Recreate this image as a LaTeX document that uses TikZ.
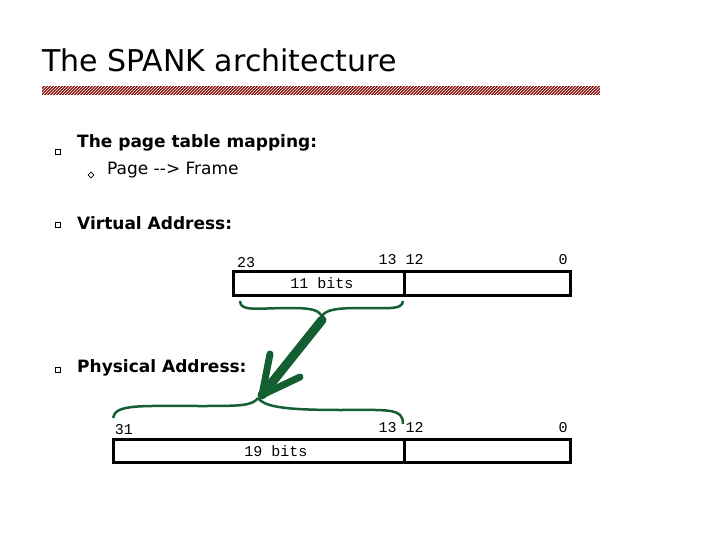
\documentclass[tikz,border=0pt]{standalone}
\usepackage{fontspec}
\setmainfont{DejaVu Sans}
\newfontfamily\monof{Liberation Mono}
\usetikzlibrary{patterns,arrows.meta}
\definecolor{gr}{RGB}{20,95,50}
\definecolor{dr}{RGB}{140,20,20}
\tikzset{
 lbl/.style={font=\fontsize{17}{20}\selectfont\bfseries, anchor=west, inner sep=0},
 sub/.style={font=\fontsize{17}{20}\selectfont, anchor=west, inner sep=0},
 num/.style={font=\monof\fontsize{15}{16}\selectfont, inner sep=0},
 reg/.style={draw, line width=3pt},
 brace/.style={draw=gr, line width=2.5pt},
 bul/.style={draw, line width=0.6pt, minimum size=5pt, inner sep=0},
}
\begin{document}
\begin{tikzpicture}[x=1pt,y=-1pt]
\useasboundingbox (0,0) rectangle (720,540);
\node[anchor=west, inner sep=0, font=\fontsize{30}{32}\selectfont] (title) at (42,60) {The SPANK architecture};
\fill[dr] (42,86) rectangle (600,95);
\fill[pattern=north east lines, pattern color=white] (42,86) rectangle (600,95);
\node[bul] (b1) at (58,152) {};
\node[lbl] (t1) at (77,143) {The page table mapping:};
\node[bul, rotate=45, minimum size=4pt] (b2) at (91,175) {};
\node[sub] (t2) at (107,170) {Page {-}{-}> Frame};
\node[bul] (b3) at (58,225) {};
\node[lbl] (t3) at (77,223) {Virtual Address:};
\node[bul] (b4) at (58,370) {};
\node[lbl] (t4) at (77,368) {Physical Address:};
% virtual register
\draw[reg] (233,271) rectangle (570,295);
\draw[reg] (404,271) -- (404,295);
\node[num] (v23) at (246,263) {23};
\node[num] (v13) at (401,260) {13 12};
\node[num] (v0) at (563,260) {0};
\node[num] (v11) at (322,283) {11 bits};
% physical register
\draw[reg] (113,439) rectangle (570,462);
\draw[reg] (404,439) -- (404,462);
\node[num] (p31) at (124,430) {31};
\node[num] (p13) at (401,428) {13 12};
\node[num] (p0) at (563,428) {0};
\node[num] (p19) at (276,451) {19 bits};
% braces
\coordinate (ttip) at (322,316);
\coordinate (btip) at (258,398);
\draw[brace] (240,301) .. controls (240,312) and (258,308) .. (290,308) .. controls (312,308) and (318,310) .. (ttip);
\draw[brace] (ttip) .. controls (326,310) and (335,308) .. (360,308) .. controls (390,308) and (402,310) .. (403,301);
\draw[brace] (113,418) .. controls (115,404) and (140,406) .. (200,406) .. controls (240,406) and (252,406) .. (btip);
\draw[brace] (btip) .. controls (264,406) and (280,410) .. (340,410) .. controls (390,410) and (403,408) .. (403,424);
\draw[gr, line width=9pt, line cap=round] (322,320) -- (262,395);
\draw[gr, line width=7pt, line cap=round] (262,395) -- (270,354);
\draw[gr, line width=7pt, line cap=round] (262,395) -- (300,377);
\end{tikzpicture}
\end{document}
